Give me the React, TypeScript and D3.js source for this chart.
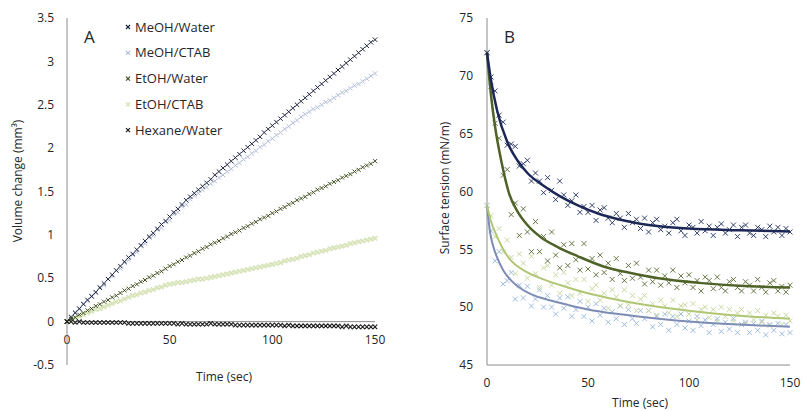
import React from "react";
import * as d3 from "d3";

// ---------- Panel A data ----------
const timeA = [0,2,4,6,8,10,12,14,16,18,20,22,24,26,28,30,32,34,36,38,40,42,44,46,48,50,52,54,56,58,60,62,64,66,68,70,72,74,76,78,80,82,84,86,88,90,92,94,96,98,100,102,104,106,108,110,112,114,116,118,120,122,124,126,128,130,132,134,136,138,140,142,144,146,148,150];
const meohWater = [0.00,0.05,0.10,0.15,0.20,0.25,0.29,0.34,0.39,0.44,0.49,0.54,0.59,0.64,0.69,0.74,0.78,0.83,0.88,0.93,0.98,1.02,1.07,1.12,1.16,1.21,1.26,1.30,1.35,1.40,1.44,1.48,1.52,1.56,1.60,1.64,1.69,1.73,1.77,1.81,1.85,1.89,1.93,1.97,2.01,2.05,2.09,2.13,2.18,2.22,2.26,2.30,2.34,2.38,2.42,2.46,2.50,2.54,2.58,2.62,2.66,2.70,2.74,2.78,2.82,2.86,2.90,2.94,2.98,3.02,3.06,3.10,3.14,3.18,3.22,3.25];
const meohCtab = [0.00,0.06,0.11,0.14,0.21,0.24,0.30,0.33,0.40,0.42,0.49,0.52,0.59,0.61,0.68,0.71,0.77,0.80,0.87,0.90,0.97,0.99,1.06,1.08,1.15,1.17,1.24,1.26,1.33,1.35,1.41,1.45,1.48,1.52,1.55,1.59,1.62,1.66,1.69,1.73,1.76,1.80,1.83,1.87,1.90,1.94,1.97,2.01,2.04,2.08,2.11,2.15,2.18,2.22,2.25,2.29,2.32,2.36,2.39,2.42,2.45,2.47,2.50,2.53,2.55,2.58,2.61,2.64,2.66,2.69,2.72,2.74,2.77,2.80,2.83,2.86];
const etohWater = [0.00,0.03,0.05,0.08,0.10,0.13,0.15,0.18,0.20,0.23,0.25,0.28,0.30,0.33,0.36,0.38,0.41,0.43,0.46,0.48,0.51,0.53,0.56,0.58,0.61,0.64,0.66,0.69,0.71,0.74,0.76,0.79,0.81,0.84,0.86,0.89,0.91,0.93,0.96,0.98,1.01,1.03,1.05,1.08,1.10,1.13,1.15,1.18,1.20,1.22,1.25,1.27,1.30,1.32,1.35,1.37,1.40,1.42,1.44,1.47,1.49,1.52,1.54,1.56,1.59,1.61,1.63,1.66,1.68,1.70,1.73,1.75,1.78,1.80,1.82,1.85];
const etohCtab = [0.00,0.02,0.04,0.06,0.08,0.10,0.12,0.14,0.15,0.17,0.19,0.21,0.23,0.24,0.26,0.28,0.30,0.31,0.33,0.34,0.36,0.37,0.39,0.40,0.42,0.43,0.44,0.45,0.45,0.46,0.47,0.48,0.49,0.49,0.50,0.51,0.52,0.53,0.54,0.55,0.56,0.57,0.58,0.59,0.60,0.61,0.62,0.63,0.64,0.65,0.66,0.67,0.68,0.70,0.71,0.72,0.73,0.75,0.76,0.77,0.79,0.80,0.81,0.82,0.84,0.85,0.86,0.87,0.88,0.90,0.91,0.92,0.93,0.94,0.95,0.96];
const hexaneWater = [0.00,0.00,-0.01,0.00,-0.01,-0.01,-0.01,-0.01,-0.01,-0.01,-0.01,-0.01,-0.01,-0.01,-0.01,-0.02,-0.02,-0.02,-0.02,-0.02,-0.02,-0.02,-0.02,-0.02,-0.02,-0.02,-0.02,-0.03,-0.02,-0.03,-0.03,-0.03,-0.03,-0.03,-0.03,-0.02,-0.03,-0.03,-0.03,-0.03,-0.03,-0.04,-0.04,-0.04,-0.04,-0.04,-0.04,-0.04,-0.04,-0.04,-0.04,-0.04,-0.04,-0.05,-0.04,-0.05,-0.05,-0.05,-0.05,-0.05,-0.05,-0.05,-0.05,-0.05,-0.05,-0.05,-0.05,-0.06,-0.05,-0.06,-0.06,-0.06,-0.06,-0.06,-0.06,-0.06];
const legendLabels = ["MeOH/Water", "MeOH/CTAB", "EtOH/Water", "EtOH/CTAB", "Hexane/Water"];
const ticksAY = [-0.5, 0, 0.5, 1, 1.5, 2, 2.5, 3, 3.5];
const ticksX = [0, 50, 100, 150];

// ---------- Panel B data ----------
const timeB = timeA;
const navyPts = [72.0,69.9,68.7,66.6,66.0,64.0,64.1,63.9,62.2,62.4,62.7,60.9,61.6,60.9,59.9,61.2,60.1,59.3,60.9,59.7,58.8,59.2,59.7,58.2,58.7,58.2,58.8,57.5,58.4,58.6,57.7,57.3,58.1,57.7,56.9,58.1,57.3,57.6,56.8,57.7,56.5,57.3,57.6,56.7,57.0,56.4,57.3,57.6,56.6,56.2,57.1,56.9,56.4,57.4,56.6,57.0,56.2,56.9,57.2,56.4,56.7,57.1,56.1,56.9,57.1,56.4,56.2,56.9,56.7,56.1,57.0,56.5,56.9,56.2,56.8,56.5];
const olivePts = [72.0,69.1,65.9,64.6,61.4,61.9,58.0,59.0,56.2,58.5,56.5,54.8,57.4,54.8,56.1,54.0,56.5,54.5,53.4,55.4,53.6,55.5,54.1,53.2,55.5,53.3,54.2,52.8,54.5,53.0,53.8,52.4,54.2,52.9,52.3,53.6,52.5,53.8,52.6,52.0,53.2,52.2,53.2,51.9,52.7,52.1,53.2,51.7,52.7,52.1,52.8,51.7,52.3,51.4,52.6,52.3,51.6,52.6,51.7,51.4,52.2,52.4,51.7,51.4,52.2,51.9,51.4,52.4,51.7,51.3,52.1,52.3,51.4,51.8,51.3,51.9];
const lightGreenPts = [58.8,57.9,56.1,56.8,54.8,55.8,54.3,52.9,54.6,53.8,52.5,54.4,52.9,51.7,53.4,53.6,51.9,52.8,51.2,53.0,52.1,51.0,52.4,51.2,52.4,50.5,51.6,51.9,50.6,51.2,49.9,51.5,50.9,50.1,51.5,50.2,51.0,49.7,50.7,51.0,49.7,50.3,49.3,50.6,50.1,49.5,50.6,49.2,50.1,50.2,49.4,50.3,48.9,49.8,50.0,49.1,49.8,48.8,50.0,49.2,49.8,48.8,49.5,49.8,48.6,49.5,48.9,49.7,48.7,49.3,48.4,49.5,49.2,48.5,49.3,48.8];
const bluePts = [58.8,56.6,54.0,54.8,52.0,52.3,53.0,50.7,51.9,50.8,51.8,50.1,50.7,51.5,50.0,51.0,50.0,49.4,50.8,49.9,50.9,49.2,49.8,50.5,49.2,50.0,48.8,50.3,49.3,49.9,48.7,49.6,49.0,50.1,48.5,49.8,49.0,48.6,49.7,49.0,49.7,48.3,49.2,48.5,49.4,48.0,49.2,48.5,49.4,48.2,48.8,48.0,49.2,48.4,48.9,47.8,48.5,49.0,47.9,48.7,48.1,49.0,47.8,48.5,48.7,47.8,48.6,48.0,48.8,47.6,48.5,48.0,48.6,47.7,48.5,47.8];
// fitted trend lines (knots)
const navyFitT = [0,2,5,10,15,20,28,36,45,55,65,80,100,125,150];
const navyFitV = [72,69.6,67.0,64.3,62.7,61.6,60.5,59.6,58.8,58.1,57.6,57.1,56.8,56.65,56.55];
const oliveFitT = [0,2,4,7,11,15,20,27,35,45,58,70,85,105,125,150];
const oliveFitV = [72,68.3,65.6,62.7,59.8,58.3,57.1,56.0,55.2,54.4,53.5,53.0,52.5,52.1,51.85,51.7];
const lightGreenFitT = [0,2,5,8,12,18,28,40,50,60,75,90,110,130,150];
const lightGreenFitV = [58.8,57.4,56.1,55.0,54.0,53.2,52.4,51.7,51.2,50.8,50.3,49.9,49.5,49.2,49.0];
const blueFitT = [0,1.5,3,5,8,12,16,22,31,40,50,65,85,105,125,150];
const blueFitV = [58.8,56.5,55.3,54.3,53.2,52.3,51.7,51.1,50.6,50.2,49.8,49.4,49.0,48.7,48.5,48.3];
const ticksBY = [45, 50, 55, 60, 65, 70, 75];

const FONT = "'Open Sans', 'DejaVu Sans', sans-serif";
const TXT = "#262626";
const AXIS = "#8c8c8c";

function Cross({ x, y, s, color, w = 1, op = 1 }: any) {
  return (
    <path
      d={`M${x - s},${y - s}L${x + s},${y + s}M${x - s},${y + s}L${x + s},${y - s}`}
      stroke={color}
      strokeWidth={w}
      opacity={op}
      fill="none"
    />
  );
}

export default function App() {
  const xA = d3.scaleLinear().domain([0, 150]).range([67, 375]);
  const yA = d3.scaleLinear().domain([-0.5, 3.5]).range([365, 18]);
  const xB = d3.scaleLinear().domain([0, 150]).range([487, 790]);
  const yB = d3.scaleLinear().domain([45, 75]).range([365, 18]);

  const seriesA = [
    { vals: etohCtab, color: "#d3e0b0", s: 2.2, w: 1.6, op: 0.9 },
    { vals: meohCtab, color: "#b3bdd8", s: 2.2, w: 1, op: 1 },
    { vals: meohWater, color: "#1f2540", s: 2.2, w: 1, op: 1 },
    { vals: etohWater, color: "#3f4d1e", s: 2, w: 1, op: 1 },
    { vals: hexaneWater, color: "#1a1a1a", s: 2.2, w: 1.1, op: 1 },
  ];
  const legendColors = ["#1f2540", "#b3bdd8", "#3f4d1e", "#d3e0b0", "#1a1a1a"];

  const seriesB = [
    { vals: bluePts, color: "#8fb0dc", op: 0.85 },
    { vals: lightGreenPts, color: "#c2d596", op: 0.9 },
    { vals: olivePts, color: "#4f6228", op: 0.85 },
    { vals: navyPts, color: "#1f2d5c", op: 0.9 },
  ];
  const line = d3.line<number>().curve(d3.curveMonotoneX);
  const fits = [
    { t: blueFitT, v: blueFitV, color: "#7c8cb4", w: 2 },
    { t: lightGreenFitT, v: lightGreenFitV, color: "#b0c674", w: 2 },
    { t: oliveFitT, v: oliveFitV, color: "#4f6228", w: 2.5 },
    { t: navyFitT, v: navyFitV, color: "#1c2756", w: 2.5 },
  ];

  return (
    <svg width={804} height={411} style={{ position: "absolute", left: 0, top: 0, background: "#fff" }}>
      <rect x={0} y={0} width={804} height={411} fill="#fff" />
      {/* ---------- Panel A ---------- */}
      <g fontFamily={FONT} fill={TXT}>
        {ticksAY.map((t) => (
          <text key={t} x={54} y={yA(t)} dy="0.35em" textAnchor="end" fontSize={12}>
            {t}
          </text>
        ))}
        {ticksX.map((t) => (
          <text key={t} x={xA(t)} y={340} dy="0.35em" textAnchor="middle" fontSize={12}>
            {t}
          </text>
        ))}
        <text x={224} y={377} dy="0.35em" textAnchor="middle" fontSize={12}>Time (sec)</text>
        <text transform={`translate(18,181) rotate(-90)`} textAnchor="middle" dy="0.35em" fontSize={12}>
          Volume change (mm³)
        </text>
        <text x={84} y={37} dy="0.35em" fontSize={17}>A</text>
        {legendLabels.map((l, i) => (
          <g key={l}>
            <Cross x={128} y={27 + i * 25.8} s={2} color={legendColors[i]} w={1.2} />
            <text x={135} y={27 + i * 25.8} dy="0.35em" fontSize={13}>{l}</text>
          </g>
        ))}
      </g>
      <line x1={xA(0)} x2={xA(0)} y1={yA(3.5)} y2={yA(-0.5)} stroke={AXIS} strokeWidth={1} />
      <line x1={xA(0)} x2={xA(150)} y1={yA(0)} y2={yA(0)} stroke={AXIS} strokeWidth={1} />
      {seriesA.map((s, si) => (
        <g key={si}>
          {s.vals.map((v, i) => (
            <Cross key={i} x={xA(timeA[i])} y={yA(v)} s={s.s} color={s.color} w={s.w} op={s.op} />
          ))}
        </g>
      ))}

      {/* ---------- Panel B ---------- */}
      <g fontFamily={FONT} fill={TXT}>
        {ticksBY.map((t) => (
          <text key={t} x={473} y={yB(t)} dy="0.35em" textAnchor="end" fontSize={12}>
            {t}
          </text>
        ))}
        {ticksX.map((t) => (
          <text key={t} x={xB(t)} y={383} dy="0.35em" textAnchor="middle" fontSize={12}>
            {t}
          </text>
        ))}
        <text x={640} y={403} dy="0.35em" textAnchor="middle" fontSize={12}>Time (sec)</text>
        <text transform={`translate(445,188) rotate(-90)`} textAnchor="middle" dy="0.35em" fontSize={12}>
          Surface tension (mN/m)
        </text>
        <text x={504} y={37} dy="0.35em" fontSize={17}>B</text>
      </g>
      <line x1={xB(0)} x2={xB(0)} y1={yB(75)} y2={yB(45)} stroke={AXIS} strokeWidth={1} />
      <line x1={xB(0)} x2={xB(150)} y1={yB(45)} y2={yB(45)} stroke={AXIS} strokeWidth={1} />
      {seriesB.map((s, si) => (
        <g key={si}>
          {s.vals.map((v, i) => (
            <Cross key={i} x={xB(timeB[i])} y={yB(v)} s={2.5} color={s.color} w={1} op={s.op} />
          ))}
        </g>
      ))}
      {fits.map((f, fi) => (
        <path
          key={fi}
          d={line.x((_, i) => xB(f.t[i])).y((v) => yB(v))(f.v) || ""}
          fill="none"
          stroke={f.color}
          strokeWidth={f.w}
        />
      ))}
    </svg>
  );
}
